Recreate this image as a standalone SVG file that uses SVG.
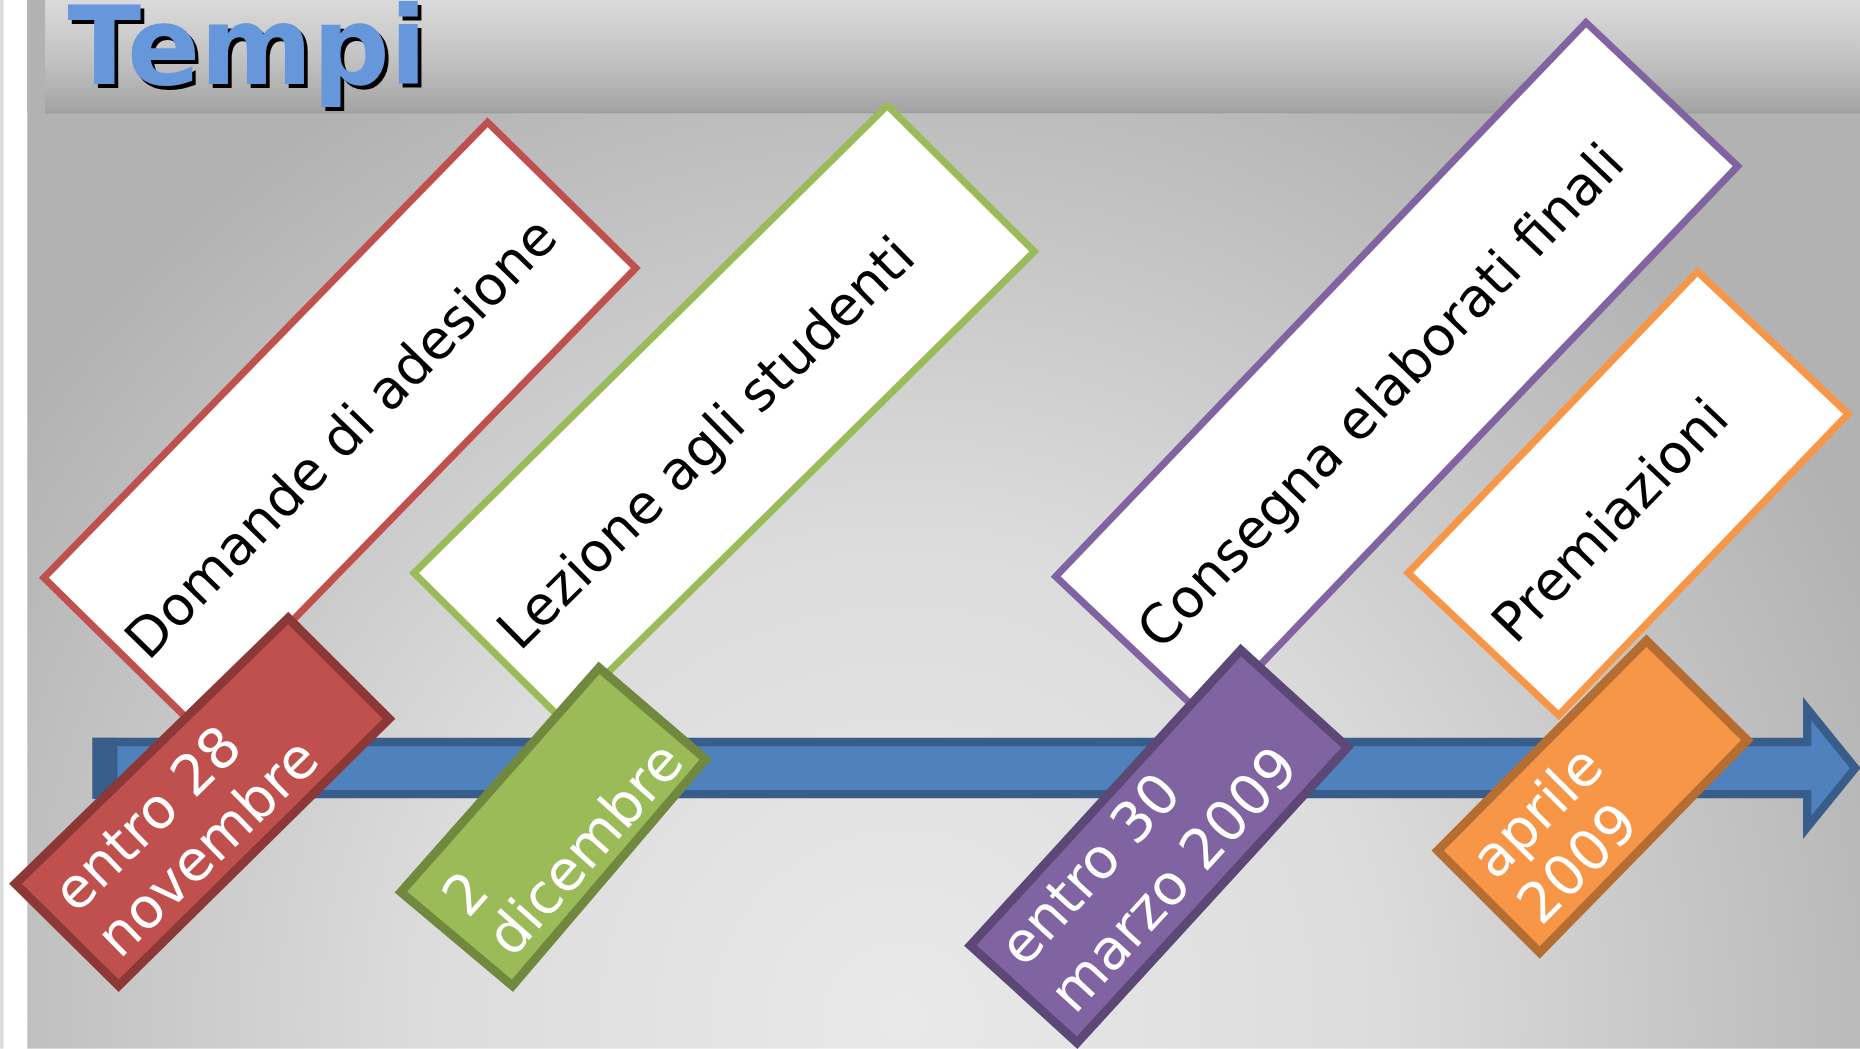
<svg xmlns="http://www.w3.org/2000/svg" width="1860" height="1049" viewBox="0 0 1860 1049">
<defs>
<linearGradient id="titleGrad" x1="0" y1="0" x2="0" y2="1">
<stop offset="0" stop-color="#dadada"/>
<stop offset="0.5" stop-color="#c4c4c4"/>
<stop offset="1" stop-color="#a3a3a3"/>
</linearGradient>
<radialGradient id="bgGrad" cx="760" cy="860" r="900" gradientUnits="userSpaceOnUse">
<stop offset="0" stop-color="#e9e9e9"/>
<stop offset="0.45" stop-color="#dcdcdc"/>
<stop offset="1" stop-color="#b2b2b2"/>
</radialGradient>
<style>
.lbl{font-family:"DejaVu Sans","Verdana",sans-serif;font-size:45.5px;fill:#000000;text-anchor:middle}
.date{font-family:"DejaVu Sans","Verdana",sans-serif;font-size:47px;fill:#ffffff}
.title{font-family:"DejaVu Sans","Verdana",sans-serif;font-weight:bold;font-size:91px}
.wbox{fill:#ffffff;stroke-width:6;stroke-linejoin:miter}
.dbox{stroke-width:7.5;stroke-linejoin:miter}
</style>
</defs>
<g transform="scale(1.186224)">
<rect x="0" y="0" width="1568" height="884" fill="#ffffff"/>
<rect x="0" y="0" width="3" height="884" fill="#dcdcdc"/>
<rect x="23" y="0" width="1545" height="884" fill="url(#bgGrad)"/>
<rect x="23" y="0" width="15" height="95" fill="#b2b2b2"/>
<rect x="38" y="0" width="1530" height="95" fill="url(#titleGrad)"/>
<rect x="38" y="94" width="1530" height="1.5" fill="#9e9e9e"/>
<g id="title">
<text class="title" x="60" y="74" fill="#000000">Tempi</text>
<text class="title" x="57" y="71" fill="#6797db">Tempi</text>
</g>

<g id="node-domande">
<polygon class="wbox" stroke="#c0504d" points="37,487 411,103 536,226 162,610"/>
<text class="lbl" transform="translate(298.5,380) rotate(-45.7)" x="0" y="0">Domande di adesione</text>
</g>
<g id="node-lezione">
<polygon class="wbox" stroke="#9bbb59" points="349,483 748,89 872,212 473,606"/>
<text class="lbl" transform="translate(606,384.5) rotate(-44.6)" x="0" y="0">Lezione agli studenti</text>
</g>
<g id="node-consegna">
<polygon class="wbox" stroke="#8064a2" points="890,486 1337,19 1465,140 1018,607"/>
<text class="lbl" transform="translate(1175,344.5) rotate(-46.2)" x="0" y="0">Consegna elaborati finali</text>
</g>
<g id="node-premiazioni">
<polygon class="wbox" stroke="#f79646" points="1187,483 1431,229 1558,349 1314,603"/>
<text class="lbl" transform="translate(1368.5,449.5) rotate(-46.1)" x="0" y="0">Premiazioni</text>
</g>

<g id="connectors">
<polygon points="81.5,625.5 1523.5,625.5 1523.5,597.5 1564,647.5 1523.5,697.5 1523.5,669.5 81.5,669.5" fill="#4f81bd" stroke="#385d8a" stroke-width="7" stroke-linejoin="miter"/>
<rect x="78" y="622" width="21" height="51.5" fill="#385d8a"/>
</g>

<g id="date-novembre">
<polygon class="dbox" fill="#c0504d" stroke="#8c3836" points="13,745 243,521 328,606 100,831"/>
<text class="date" transform="translate(170.5,675.5) rotate(-44.3)"><tspan x="-143" y="-6">entro 28</tspan><tspan x="-143" y="47">novembre</tspan></text>
</g>
<g id="date-dicembre">
<polygon class="dbox" fill="#9bbb59" stroke="#71893f" points="338,752 505,563 595,640 432,831"/>
<text class="date" transform="translate(467,696.5) rotate(-48.4)"><tspan x="-107" y="-2">2</tspan><tspan x="-107" y="48">dicembre</tspan></text>
</g>
<g id="date-marzo">
<polygon class="dbox" fill="#8064a2" stroke="#5c4776" points="818,797 1046,548 1136,630 908,879"/>
<text class="date" transform="translate(977,713.5) rotate(-47.5)"><tspan x="-153" y="-14">entro 30</tspan><tspan x="-153" y="44">marzo 2009</tspan></text>
</g>
<g id="date-aprile">
<polygon class="dbox" fill="#f79646" stroke="#b66d31" points="1212,717 1388,540 1473,624 1298,803"/>
<text class="date" transform="translate(1342.5,671) rotate(-45.2)"><tspan x="-109" y="-7.5">aprile</tspan><tspan x="-109" y="47">2009</tspan></text>
</g>
</g>
</svg>
